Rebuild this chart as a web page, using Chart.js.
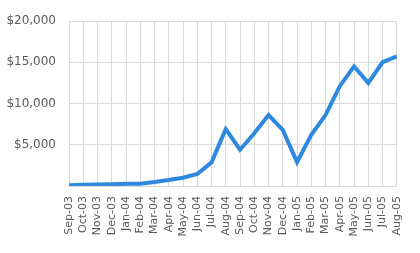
<!DOCTYPE html>
<html>
<head>
<meta charset="utf-8">
<script src="https://cdn.jsdelivr.net/npm/chart.js@4/dist/chart.umd.min.js"></script>
<style>
  html, body { margin: 0; padding: 0; background: #fff; }
  #wrap { width: 420px; height: 253px; }
</style>
</head>
<body>
<div id="wrap"><canvas id="chart"></canvas></div>
<script>
const months = [
  "Sep-03", "Oct-03", "Nov-03", "Dec-03", "Jan-04", "Feb-04", "Mar-04", "Apr-04",
  "May-04", "Jun-04", "Jul-04", "Aug-04", "Sep-04", "Oct-04", "Nov-04", "Dec-04",
  "Jan-05", "Feb-05", "Mar-05", "Apr-05", "May-05", "Jun-05", "Jul-05", "Aug-05"
];
const revenue = [
  100, 150, 180, 220, 260, 280, 480, 720,
  1000, 1450, 2860, 6900, 4400, 6400, 8600, 6800,
  2900, 6200, 8600, 12100, 14500, 12500, 15000, 15700
];
const yTicks = [0, 5000, 10000, 15000, 20000];

const gridColor = "#d9d9d9";
const textColor = "#595959";

new Chart(document.getElementById("chart"), {
  type: "line",
  data: {
    labels: months,
    datasets: [{
      data: revenue,
      borderColor: "#2e88e0",
      borderWidth: 4,
      pointRadius: 0,
      tension: 0,
      fill: false,
    }],
  },
  options: {
    responsive: true,
    maintainAspectRatio: false,
    animation: false,
    layout: { padding: { top: 21, right: 22, left: 0, bottom: 0 } },
    plugins: { legend: { display: false }, tooltip: { enabled: false } },
    scales: {
      x: {
        offset: false,
        grid: { color: gridColor, drawTicks: false },
        border: { color: gridColor },
        ticks: {
          color: textColor,
          font: { family: "DejaVu Sans", size: 11 },
          minRotation: 90,
          maxRotation: 90,
          autoSkip: false,
          padding: 10,
        },
        afterFit: (s) => { s.height = 253 - 186; },
      },
      y: {
        min: 0,
        max: 20000,
        afterBuildTicks: (s) => { s.ticks = yTicks.map((v) => ({ value: v })); },
        grid: { color: gridColor, drawTicks: false },
        border: { color: gridColor },
        ticks: {
          color: textColor,
          font: { family: "DejaVu Sans", size: 12 },
          padding: 13,
          callback: (v) => v === 0 ? "" : "$" + v.toLocaleString("en-US"),
        },
        afterFit: (s) => { s.width = 69; },
      },
    },
  },
});
</script>
</body>
</html>
